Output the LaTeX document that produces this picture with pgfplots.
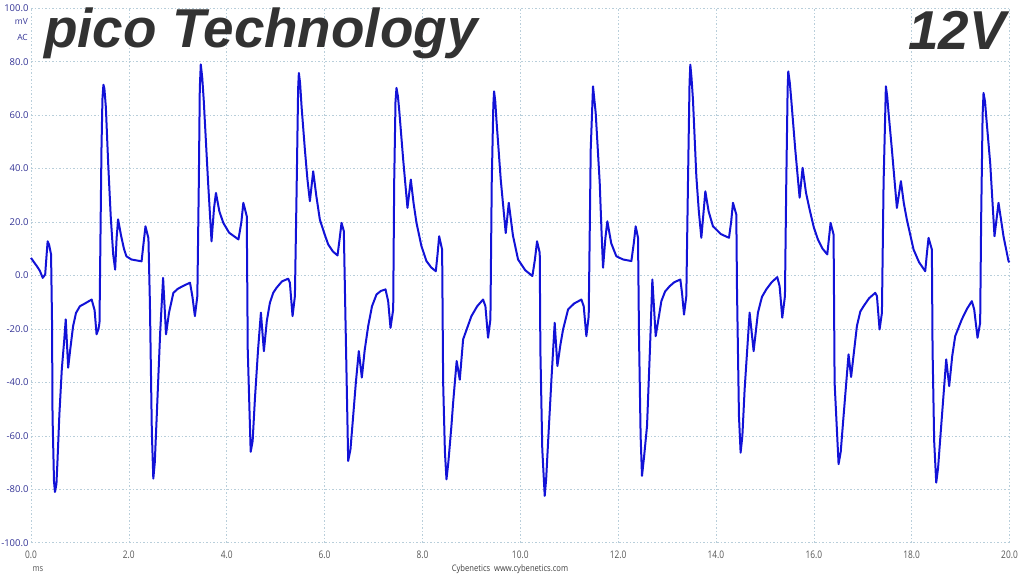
\documentclass[border=0pt]{standalone}
\usepackage{fontspec}
\setmainfont{Open Sans}
\newfontfamily\titlefont{Liberation Sans}
\usepackage{pgfplots}
\pgfplotsset{compat=1.18}
\definecolor{gridc}{RGB}{184,206,218}
\definecolor{ylab}{RGB}{52,52,150}
\definecolor{xlab}{RGB}{85,85,85}
\definecolor{wave}{RGB}{18,18,215}
\definecolor{titlec}{RGB}{50,50,50}
\begin{document}
\begin{tikzpicture}[x=1bp,y=1bp]
\useasboundingbox (0,0) rectangle (1024,576);
\begin{axis}[
  at={(31bp,33.3bp)}, anchor=south west,
  scale only axis, width=978.5bp, height=534.4bp,
  xmin=0, xmax=20, ymin=-100, ymax=100,
  axis line style={draw=none},
  major tick length=0pt,
  xtick={0,2,...,20}, ytick={-100,-80,...,100},
  xticklabels={0.0,2.0,4.0,6.0,8.0,10.0,12.0,14.0,16.0,18.0,20.0},
  yticklabels={-100.0,-80.0,-60.0,-40.0,-20.0,0.0,20.0,40.0,60.0,80.0,100.0},
  grid=major,
  grid style={gridc, line width=0.6bp, dash pattern=on 1.5bp off 2bp},
  yticklabel style={font=\fontsize{9.5}{10}\selectfont, text=ylab, anchor=east, xshift=1bp},
  xticklabel style={font=\fontsize{10.5}{11}\selectfont, text=xlab, xscale=0.8, anchor=center, yshift=-12bp},
  clip=false,
]
\addplot[wave, line width=2bp, line join=round] coordinates {
(0.00,6.6) (0.06,5.0) (0.12,3.5) (0.18,1.8) (0.24,-0.9) (0.29,0.4) (0.32,8) (0.34,12.8) (0.37,11.5) (0.39,9.7) (0.41,7.9)
(0.43,-17.6) (0.44,-52.6) (0.47,-77) (0.49,-81) (0.52,-78) (0.54,-70) (0.58,-52) (0.63,-35) (0.68,-24) (0.71,-16.4)
(0.76,-34.5) (0.80,-28) (0.86,-19) (0.92,-14) (1.00,-11.5) (1.10,-10.5) (1.24,-9) (1.30,-13) (1.34,-22) (1.38,-20) (1.40,-17.6)
(1.42,14.7) (1.44,47) (1.46,66) (1.48,71.4) (1.50,70) (1.53,63) (1.58,40.9) (1.63,22) (1.68,7.9) (1.72,2.2) (1.75,14) (1.78,21)
(1.84,15) (1.90,10) (1.95,7.2) (2.05,6) (2.26,5.3) (2.30,12) (2.34,18.4) (2.40,14)
(2.43,-10) (2.47,-58.7) (2.50,-76) (2.53,-70) (2.57,-52.6) (2.64,-21.4) (2.70,-0.9) (2.76,-22) (2.82,-14) (2.91,-6.5)
(3.00,-5) (3.10,-4) (3.25,-2.7) (3.30,-8) (3.35,-15.2) (3.40,-7.7)
(3.43,34.7) (3.45,70) (3.47,79) (3.50,74) (3.53,65.8) (3.57,52) (3.62,34.7) (3.69,12.8) (3.74,25) (3.78,30.9) (3.85,24) (3.93,19.7)
(4.05,16) (4.24,13.5) (4.30,20) (4.34,27.2) (4.41,22.2)
(4.43,-27.7) (4.49,-66) (4.53,-62) (4.576,-46.4) (4.64,-28) (4.699,-13.9) (4.76,-28.3) (4.82,-17) (4.883,-10.2) (4.95,-6.5)
(5.019,-4.6) (5.13,-2.2) (5.257,-1.2) (5.291,-2.7) (5.346,-15.2) (5.394,-7.7)
(5.428,30.9) (5.46,70) (5.475,75.8) (5.50,72) (5.53,63.3) (5.598,47.1) (5.65,36) (5.70,27.8) (5.768,39) (5.83,30) (5.904,20.9)
(6.00,15.5) (6.075,11.6) (6.17,9) (6.265,7.5) (6.31,14) (6.347,19.7) (6.394,16.6)
(6.429,-17.7) (6.483,-69.4) (6.53,-65) (6.585,-52.6) (6.64,-40) (6.70,-28.3) (6.762,-38.2) (6.82,-28) (6.892,-18.9) (6.97,-11.5)
(7.062,-7.1) (7.15,-5.8) (7.246,-5.2) (7.30,-9.6) (7.348,-19.6) (7.403,-12.7)
(7.423,34.7) (7.45,65) (7.47,70.2) (7.50,67) (7.525,62.1) (7.607,43.4) (7.695,25.3) (7.763,35.9) (7.82,27) (7.879,19.7)
(7.98,11) (8.083,5.4) (8.18,3) (8.274,1.6) (8.31,8) (8.342,14.7) (8.403,9.7)
(8.424,-40.1) (8.46,-66) (8.492,-76.3) (8.53,-70) (8.593,-56.3) (8.628,-47.6) (8.70,-32) (8.764,-39) (8.832,-23.9)
(9.002,-15.2) (9.12,-11.5) (9.24,-9) (9.288,-11.5) (9.342,-23.3) (9.39,-16.4)
(9.417,34.7) (9.45,64) (9.465,68.9) (9.49,65) (9.513,58.3) (9.601,35.9) (9.703,15.9) (9.765,27.2) (9.85,15) (9.955,6)
(10.10,2) (10.248,-0.2) (10.30,6) (10.343,12.8) (10.398,8.5)
(10.411,-27.7) (10.45,-65) (10.50,-82.5) (10.53,-76) (10.568,-62.6) (10.64,-38) (10.704,-17.7) (10.759,-33.9) (10.82,-26) (10.875,-20.2)
(10.977,-12.7) (11.10,-10.5) (11.249,-9) (11.297,-11.5) (11.351,-22.7) (11.399,-15.2)
(11.419,14.7) (11.44,47.1) (11.487,70.8) (11.542,60.8) (11.624,34.7) (11.66,17) (11.692,2.9) (11.74,14) (11.78,20.3) (11.86,12) (11.964,7.2)
(12.10,6) (12.271,5.4) (12.32,12) (12.359,18.4) (12.407,14.1)
(12.427,-22.7) (12.46,-60) (12.488,-75) (12.53,-68) (12.591,-56.3) (12.65,-28) (12.70,-1.5) (12.768,-22.7) (12.884,-9.6) (12.96,-6)
(13.054,-4) (13.15,-2.5) (13.272,-1.5) (13.306,-6.5) (13.347,-14.6) (13.394,-7.7)
(13.428,34.7) (13.46,72) (13.476,78.9) (13.50,74) (13.53,65.8) (13.599,37.1) (13.65,24) (13.701,14.1) (13.783,31.5) (13.85,24) (13.939,18.4)
(14.10,15.5) (14.266,14.1) (14.31,20) (14.348,27.2) (14.416,22.8)
(14.43,-5.2) (14.47,-52.6) (14.504,-66.3) (14.54,-60) (14.586,-42.6) (14.688,-13.9) (14.77,-28.3) (14.858,-13.9) (14.94,-8)
(15.029,-5.2) (15.14,-2.5) (15.253,-0.6) (15.301,-4) (15.355,-15.8) (15.41,-7.7)
(15.437,34.7) (15.465,70) (15.478,76.4) (15.51,72) (15.539,65.8) (15.621,47.1) (15.71,29.1) (15.771,40.3) (15.84,31) (15.914,24.7)
(16.00,18) (16.084,13.5) (16.18,10) (16.275,7.9) (16.31,14) (16.343,19.7) (16.404,15.3)
(16.425,-40.1) (16.506,-70.6) (16.55,-66) (16.608,-52.6) (16.71,-29.5) (16.762,-38) (16.881,-18.9) (16.95,-13.5)
(17.017,-11.5) (17.13,-8.5) (17.256,-6.5) (17.29,-7.7) (17.344,-20.2) (17.392,-14)
(17.426,34.7) (17.473,70.8) (17.50,67) (17.528,60.8) (17.596,47.1) (17.698,25.3) (17.78,35.3) (17.84,27) (17.902,20.9)
(18.039,9.7) (18.15,5) (18.277,1.6) (18.31,8) (18.345,14.1) (18.413,9.7)
(18.427,-27.7) (18.46,-62) (18.502,-77.5) (18.54,-72) (18.583,-61.3) (18.706,-31.4) (18.767,-41.4) (18.83,-30) (18.89,-22.7)
(19.026,-16.4) (19.13,-12.5) (19.23,-9.6) (19.278,-12.7) (19.346,-23.3) (19.40,-17.7)
(19.421,22.2) (19.45,60) (19.469,68.3) (19.50,65) (19.523,59.6) (19.605,42.1) (19.693,14.7) (19.775,27.2) (19.877,14.7) (19.979,5.4) (20.00,5)
};
\end{axis}
% annotations
\node[anchor=east, text=ylab, font=\fontsize{8.5}{9}\selectfont, inner sep=0pt] at (28,555) {mV};
\node[anchor=east, text=ylab, font=\fontsize{8.5}{9}\selectfont, inner sep=0pt] at (28,539) {AC};
\node[anchor=center, text=xlab, font=\fontsize{9}{10}\selectfont, xscale=0.85, inner sep=0pt] at (38,7) {ms};
\node[anchor=center, text=black!75, font=\fontsize{9}{10}\selectfont, xscale=0.85, inner sep=0pt] at (510,7) {Cybenetics\enspace www.cybenetics.com};
% titles
\node[anchor=base west, inner sep=0pt, text=titlec, font=\titlefont\bfseries\itshape\fontsize{55}{60}\selectfont] at (44,528) {pico Technology};
\node[anchor=base east, inner sep=0pt, text=titlec, font=\titlefont\bfseries\itshape\fontsize{55}{60}\selectfont] at (1006,526) {12V};
\end{tikzpicture}
\end{document}
